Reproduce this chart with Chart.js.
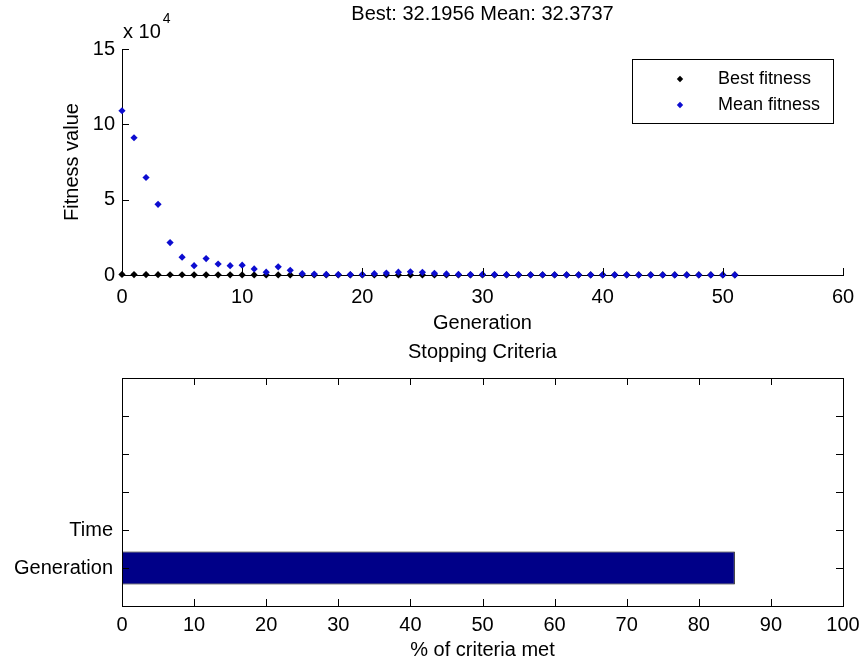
<!DOCTYPE html>
<html>
<head>
<meta charset="utf-8">
<script src="https://cdn.jsdelivr.net/npm/chart.js@4.4.1/dist/chart.umd.min.js"></script>
<style>
  html, body { margin: 0; padding: 0; background: #fff; }
  canvas { position: absolute; left: 0; top: 0; }
</style>
</head>
<body>
<canvas id="fitness" width="862" height="664"></canvas>
<canvas id="stopping" width="862" height="664"></canvas>
<script>
// GA run: fitness per generation
const generations = [0, 1, 2, 3, 4, 5, 6, 7, 8, 9, 10, 11, 12, 13, 14, 15, 16, 17, 18, 19,
  20, 21, 22, 23, 24, 25, 26, 27, 28, 29, 30, 31, 32, 33, 34, 35, 36, 37, 38, 39,
  40, 41, 42, 43, 44, 45, 46, 47, 48, 49, 50, 51];

const meanFitness = [109000, 91100, 64700, 46900, 21500, 11800, 6200, 10900, 7300, 6200,
  6500, 4000, 1900, 5400, 3100, 900, 600, 350, 300, 250,
  280, 900, 1300, 1900, 2100, 1800, 1100, 700, 400, 300,
  350, 250, 200, 220, 180, 150, 160, 140, 120, 130,
  110, 95, 90, 80, 75, 70, 60, 55, 48, 41, 36, 32.3737];

const bestFitness = [412.83, 305.17, 251.62, 198.44, 176.9, 150.31, 128.75, 110.2, 96.48, 88.13,
  79.6, 71.02, 66.35, 60.19, 55.87, 51.4, 48.92, 46.03, 44.5, 42.81,
  41.37, 40.12, 39.2, 38.44, 37.61, 36.9, 36.25, 35.7, 35.18, 34.83,
  34.5, 34.21, 33.97, 33.8, 33.62, 33.41, 33.25, 33.1, 32.98, 32.87,
  32.76, 32.68, 32.6, 32.52, 32.46, 32.4, 32.35, 32.3, 32.26, 32.23, 32.21, 32.1956];

// Stopping criteria (bottom-up) and how far each one has progressed, in %
const criteriaLabels = ['Generation', 'Time', '', '', ''];
const criteriaMet = [85, 0];

const FONT = '"Liberation Sans", Arial, sans-serif';
Chart.defaults.font.family = FONT;
Chart.defaults.font.size = 20;
Chart.defaults.color = '#000';

// tick marks pointing into the plot, optionally mirrored on a full box
const innerTicks = {
  id: 'innerTicks',
  afterDraw(chart, args, opts) {
    const { ctx, chartArea: a, scales } = chart;
    const len = opts.len || 7;
    ctx.save();
    ctx.strokeStyle = '#000';
    ctx.lineWidth = 1;
    ctx.beginPath();
    scales.x.ticks.forEach(t => {
      const p = Math.round(scales.x.getPixelForValue(t.value)) + 0.5;
      ctx.moveTo(p, a.bottom); ctx.lineTo(p, a.bottom - len);
      if (opts.box) { ctx.moveTo(p, a.top); ctx.lineTo(p, a.top + len); }
    });
    scales.y.ticks.forEach(t => {
      const p = Math.round(scales.y.getPixelForValue(t.value)) + 0.5;
      ctx.moveTo(a.left, p); ctx.lineTo(a.left + len, p);
      if (opts.box) { ctx.moveTo(a.right, p); ctx.lineTo(a.right - len, p); }
    });
    if (opts.box) {
      ctx.moveTo(Math.round(a.left) + 0.5, Math.round(a.top) + 0.5);
      ctx.lineTo(Math.round(a.right) + 0.5, Math.round(a.top) + 0.5);
      ctx.lineTo(Math.round(a.right) + 0.5, Math.round(a.bottom) + 0.5);
    }
    ctx.stroke();
    ctx.restore();
  }
};

function diamond(ctx, x, y, r, color) {
  ctx.fillStyle = color;
  ctx.beginPath();
  ctx.moveTo(x, y - r); ctx.lineTo(x + r, y); ctx.lineTo(x, y + r); ctx.lineTo(x - r, y);
  ctx.closePath();
  ctx.fill();
}

// titles, axis multiplier and the boxed legend
const annotate = {
  id: 'annotate',
  afterDraw(chart, args, opts) {
    const { ctx, chartArea: a } = chart;
    ctx.save();
    ctx.fillStyle = '#000';
    ctx.textBaseline = 'middle';
    if (opts.title) {
      ctx.font = `20px ${FONT}`;
      ctx.textAlign = 'center';
      ctx.fillText(opts.title.text, (a.left + a.right) / 2, opts.title.y);
    }
    if (opts.multiplier) {
      const m = opts.multiplier;
      ctx.font = `20px ${FONT}`;
      ctx.textAlign = 'left';
      ctx.fillText(m.base, m.x, m.y);
      const w = ctx.measureText(m.base).width;
      ctx.font = `14px ${FONT}`;
      ctx.fillText(m.exp, m.x + w + 2, m.y - 13);
    }
    if (opts.legend) {
      const L = opts.legend;
      ctx.fillStyle = '#fff';
      ctx.fillRect(L.x, L.y, L.w, L.h);
      ctx.strokeStyle = '#000';
      ctx.lineWidth = 1;
      ctx.strokeRect(L.x + 0.5, L.y + 0.5, L.w, L.h);
      ctx.font = `18px ${FONT}`;
      ctx.textAlign = 'left';
      chart.data.datasets.forEach((ds, i) => {
        const yy = L.y + L.first + i * L.step;
        diamond(ctx, L.markerX, yy, 3.2, ds.backgroundColor);
        ctx.fillStyle = '#000';
        ctx.fillText(ds.label, L.textX, yy);
      });
    }
    ctx.restore();
  }
};

const last = arr => arr[arr.length - 1];

new Chart(document.getElementById('fitness'), {
  type: 'scatter',
  data: {
    datasets: [
      {
        label: 'Best fitness',
        data: generations.map((g, i) => ({ x: g, y: bestFitness[i] })),
        pointStyle: 'rectRot', pointRadius: 3.6, borderWidth: 0,
        backgroundColor: '#000', borderColor: '#000', order: 1, clip: false
      },
      {
        label: 'Mean fitness',
        data: generations.map((g, i) => ({ x: g, y: meanFitness[i] })),
        pointStyle: 'rectRot', pointRadius: 3.6, borderWidth: 0,
        backgroundColor: '#0c0cd0', borderColor: '#0c0cd0', order: 0, clip: false
      }
    ]
  },
  options: {
    responsive: false, animation: false, events: [],
    layout: { padding: { top: 49, right: 19, bottom: 319, left: 0 } },
    plugins: {
      legend: { display: false }, tooltip: { enabled: false },
      innerTicks: { len: 7, box: false },
      annotate: {
        title: { text: `Best: ${last(bestFitness)} Mean: ${last(meanFitness)}`, y: 14 },
        multiplier: { base: 'x 10', exp: '4', x: 123, y: 32 },
        legend: { x: 632, y: 59, w: 201, h: 64, first: 20, step: 26, markerX: 680, textX: 718 }
      }
    },
    scales: {
      x: {
        type: 'linear', min: 0, max: 60,
        ticks: { stepSize: 10, padding: 10, maxRotation: 0 },
        grid: { display: false, drawTicks: false },
        border: { display: true, color: '#000' },
        title: { display: true, text: 'Generation', padding: { top: 0, bottom: 10 } },
        afterFit(s) { s.height = 70; s.paddingLeft = 0; s.paddingRight = 0; }
      },
      y: {
        type: 'linear', min: 0, max: 150000,
        ticks: { stepSize: 50000, padding: 7, callback: v => v / 1e4 },
        grid: { display: false, drawTicks: false },
        border: { display: true, color: '#000' },
        title: { display: true, text: 'Fitness value', padding: { top: 60, bottom: 0 } },
        afterFit(s) { s.width = 122; s.paddingTop = 0; s.paddingBottom = 0; }
      }
    }
  },
  plugins: [innerTicks, annotate]
});

new Chart(document.getElementById('stopping'), {
  type: 'bar',
  data: {
    datasets: [{
      label: '% of criteria met',
      data: criteriaMet.map((v, i) => ({ x: v, y: i + 1 })),
      backgroundColor: '#000088', borderColor: '#000', borderWidth: 1, borderSkipped: false,
      categoryPercentage: 1, barPercentage: 0.87
    }]
  },
  options: {
    indexAxis: 'y',
    responsive: false, animation: false, events: [],
    layout: { padding: { top: 378, right: 19, bottom: 0, left: 0 } },
    plugins: {
      legend: { display: false }, tooltip: { enabled: false },
      innerTicks: { len: 7, box: true },
      annotate: { title: { text: 'Stopping Criteria', y: 352 } }
    },
    scales: {
      x: {
        type: 'linear', min: 0, max: 100,
        ticks: { stepSize: 10, padding: 7, maxRotation: 0 },
        grid: { display: false, drawTicks: false },
        border: { display: true, color: '#000' },
        title: { display: true, text: '% of criteria met', padding: { top: 0, bottom: 2 } },
        afterFit(s) { s.height = 58; s.paddingLeft = 0; s.paddingRight = 0; }
      },
      y: {
        type: 'linear', min: 0, max: 6, offset: false,
        afterBuildTicks(s) { s.ticks = criteriaLabels.map((_, i) => ({ value: i + 1 })); },
        ticks: { padding: 9, autoSkip: false, callback: v => criteriaLabels[v - 1] ?? '' },
        grid: { display: false, drawTicks: false, offset: false },
        border: { display: true, color: '#000' },
        afterFit(s) { s.width = 122; s.paddingTop = 0; s.paddingBottom = 0; }
      }
    }
  },
  plugins: [innerTicks, annotate]
});
</script>
</body>
</html>
